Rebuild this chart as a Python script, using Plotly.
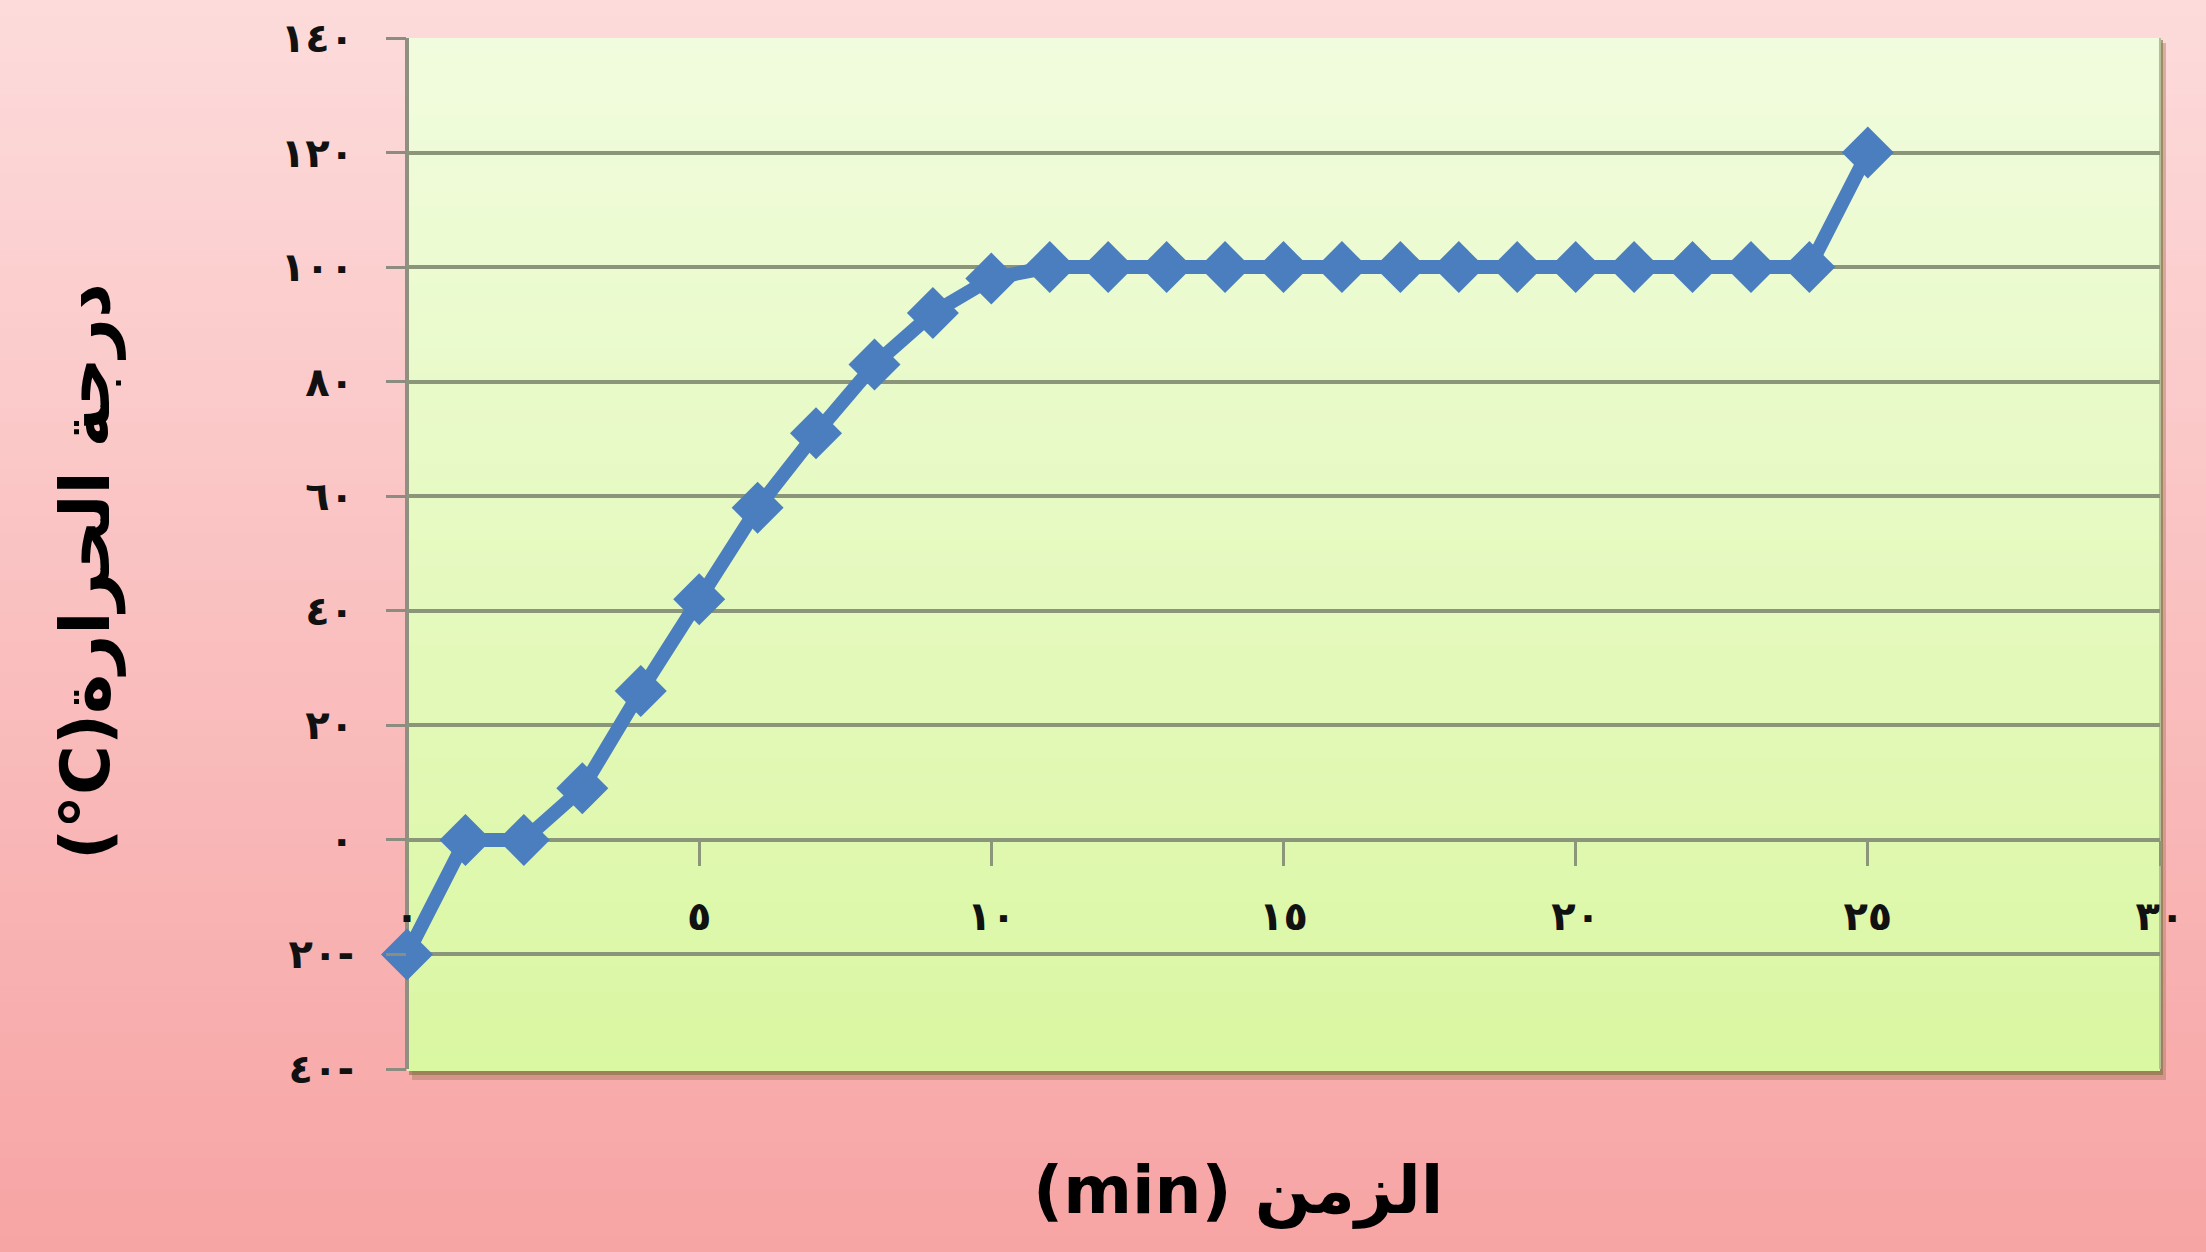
import plotly.graph_objects as go

# ---- data ----
minutes = list(range(0, 26))
temps = [-20, 0, 0, 9, 26, 42, 58, 71, 83, 92, 98,
         100, 100, 100, 100, 100, 100, 100, 100, 100, 100, 100, 100, 100, 100,
         120]

x_tick_vals = [0, 5, 10, 15, 20, 25, 30]
x_tick_text = ["٠", "٥", "١٠", "١٥", "٢٠", "٢٥", "٣٠"]
y_tick_vals = [-40, -20, 0, 20, 40, 60, 80, 100, 120, 140]
y_tick_text = ["٤٠-", "٢٠-", "٠", "٢٠", "٤٠", "٦٠", "٨٠", "١٠٠", "١٢٠", "١٤٠"]

x_title = "(min) الزمن"
y_title = "(°C)درجة الحرارة"

x_range = [0, 30]
y_range = [-40, 140]

# ---- layout geometry ----
W, H = 2206, 1252
ML, MR, MT, MB = 407, 46, 38, 183
PW, PH = W - ML - MR, H - MT - MB

def px_to_paper_x(px):
    return (px - ML) / PW

def px_to_paper_y(py):
    return (H - MB - py) / PH

def lerp(c1, c2, t):
    return "rgb(%d,%d,%d)" % tuple(round(a + (b - a) * t) for a, b in zip(c1, c2))

shapes = []
# pink page gradient
pink_top, pink_bot = (253, 219, 219), (247, 164, 164)
N = 80
for i in range(N):
    py0 = H * i / N
    py1 = H * (i + 1) / N + 1
    shapes.append(dict(type="rect", xref="paper", yref="paper",
                       x0=px_to_paper_x(0), x1=px_to_paper_x(W),
                       y0=px_to_paper_y(py1), y1=px_to_paper_y(py0),
                       fillcolor=lerp(pink_top, pink_bot, i / (N - 1)),
                       line=dict(width=0), layer="below"))
# plot area shadow
shapes.append(dict(type="rect", xref="paper", yref="paper",
                   x0=px_to_paper_x(ML + 5), x1=px_to_paper_x(ML + PW + 6),
                   y0=px_to_paper_y(MT + PH + 11), y1=px_to_paper_y(MT + 5),
                   fillcolor="rgba(170,120,100,0.45)", line=dict(width=0), layer="below"))
shapes.append(dict(type="rect", xref="paper", yref="paper",
                   x0=px_to_paper_x(ML + 2), x1=px_to_paper_x(ML + PW + 3),
                   y0=px_to_paper_y(MT + PH + 6), y1=px_to_paper_y(MT + 2),
                   fillcolor="rgba(125,115,60,0.6)", line=dict(width=0), layer="below"))
# green plot-area gradient
green_top, green_bot = (241, 252, 222), (218, 247, 162)
for i in range(N):
    t0 = i / N
    t1 = (i + 1) / N
    shapes.append(dict(type="rect", xref="paper", yref="paper",
                       x0=0, x1=1, y0=1 - t1 - 0.002, y1=1 - t0,
                       fillcolor=lerp(green_top, green_bot, i / (N - 1)),
                       line=dict(width=0), layer="below"))
# plot border
shapes.append(dict(type="line", xref="paper", yref="paper", x0=0, x1=0, y0=0, y1=1,
                   line=dict(color="#8F9180", width=4), layer="below"))
shapes.append(dict(type="line", xref="paper", yref="paper", x0=1, x1=1, y0=0, y1=1,
                   line=dict(color="#B5BE98", width=2), layer="below"))

fig = go.Figure()
fig.add_trace(go.Scatter(
    x=minutes, y=temps, mode="lines+markers",
    line=dict(color="#4A7EBF", width=14),
    marker=dict(symbol="diamond", size=40, color="#4A7EBF"),
    showlegend=False, cliponaxis=False,
))

tick_font = dict(family="DejaVu Sans", size=40, color="#111111", weight="bold")

fig.update_layout(
    width=W, height=H, autosize=False,
    margin=dict(l=ML, r=MR, t=MT, b=MB, pad=0),
    paper_bgcolor="#F9BEBE",
    plot_bgcolor="rgba(0,0,0,0)",
    shapes=shapes,
    xaxis=dict(
        range=x_range, tickmode="array", tickvals=x_tick_vals, ticktext=x_tick_text,
        anchor="free", position=(0 - y_range[0]) / (y_range[1] - y_range[0]),
        showgrid=False, zeroline=False, showline=False,
        ticks="outside", ticklen=25, tickwidth=3, tickcolor="#8C977A",
        tickfont=tick_font, ticklabelstandoff=16,
    ),
    yaxis=dict(
        range=y_range, tickmode="array", tickvals=y_tick_vals, ticktext=y_tick_text,
        showgrid=True, gridcolor="#8A957A", gridwidth=4, zeroline=False,
        showline=False,
        ticks="outside", ticklen=20, tickwidth=3, tickcolor="#8C8C80",
        tickfont=tick_font, ticklabelstandoff=24,
    ),
    annotations=[
        dict(text=x_title, xref="paper", yref="paper",
             x=px_to_paper_x(1238), y=px_to_paper_y(1190),
             xanchor="center", yanchor="middle", showarrow=False,
             font=dict(family="DejaVu Sans", size=66, color="#000000", weight="bold")),
        dict(text=y_title, xref="paper", yref="paper",
             x=px_to_paper_x(86), y=px_to_paper_y(572),
             xanchor="center", yanchor="middle", showarrow=False, textangle=-90,
             font=dict(family="DejaVu Sans", size=68, color="#000000", weight="bold")),
    ],
)

fig.write_html("out.html")
